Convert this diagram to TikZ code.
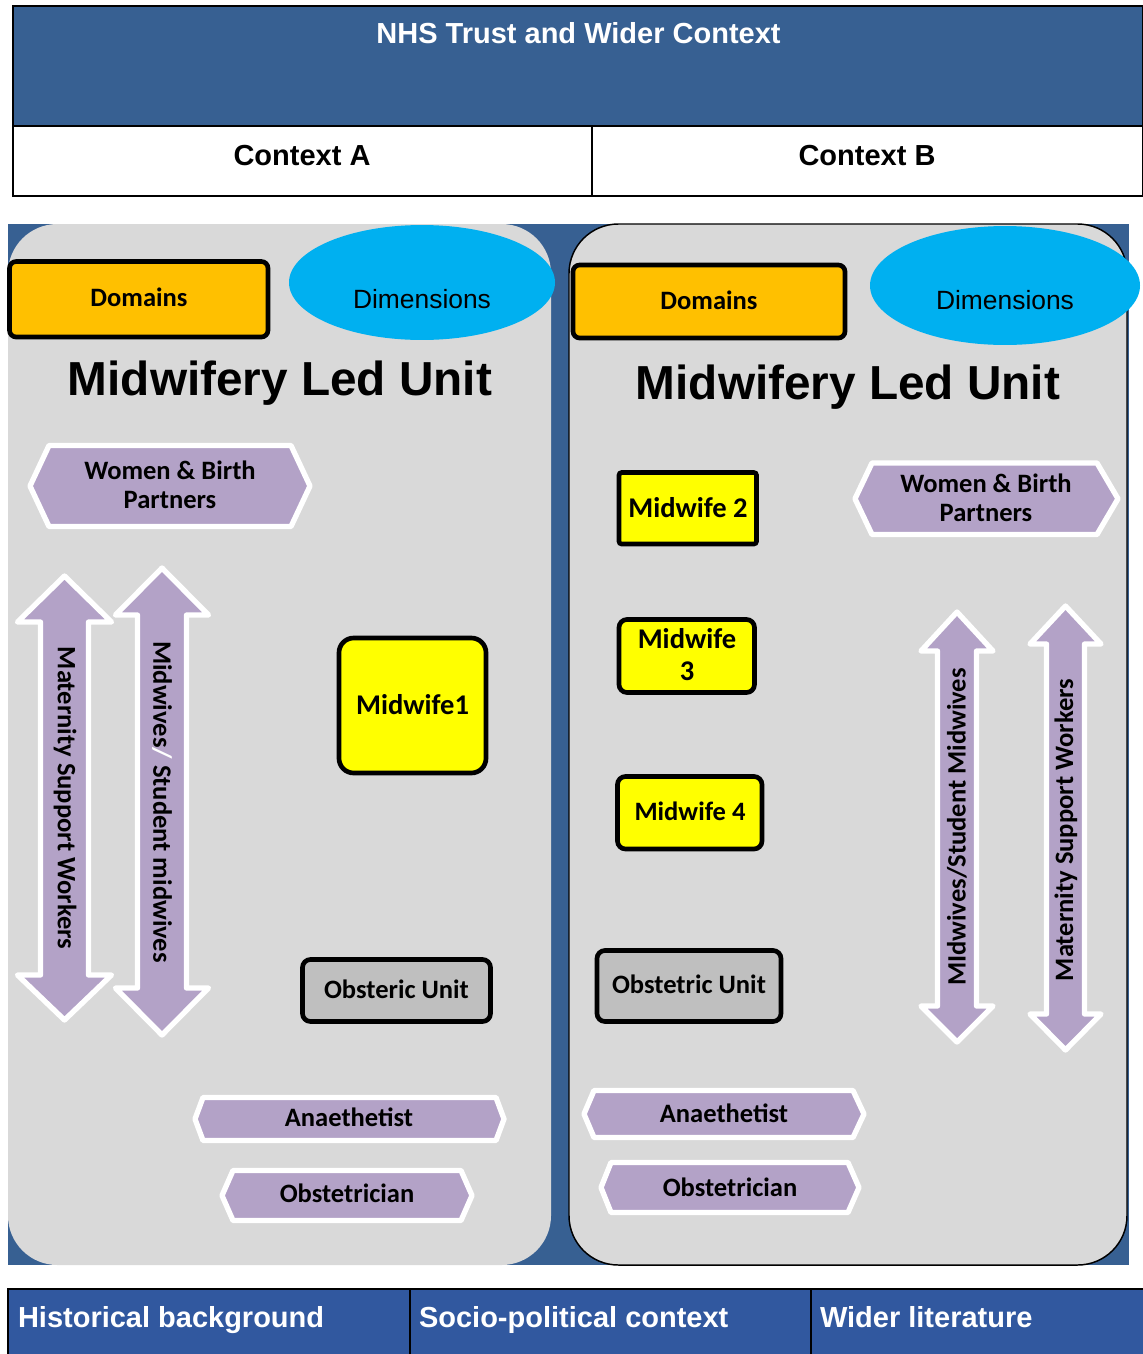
\documentclass[tikz,border=0pt]{standalone}
\usepackage{fontspec}
\newfontfamily\arialf{Liberation Sans}
\newfontfamily\calf{Carlito}
\definecolor{hdrblue}{RGB}{55,96,146}
\definecolor{botblue}{RGB}{49,88,159}
\definecolor{panelgray}{RGB}{217,217,217}
\definecolor{lav}{RGB}{179,162,199}
\definecolor{domorange}{RGB}{255,192,0}
\definecolor{dimcyan}{RGB}{0,176,240}
\definecolor{mwyellow}{RGB}{255,255,0}
\definecolor{boxgray}{RGB}{191,191,191}
\newcommand\myDblArrow[7]{%
  \draw[lavshape] (#1,#2) -- (#1+#6,#3) -- (#1+#7,#3) -- (#1+#7,#4) -- (#1+#6,#4) -- (#1,#5)
    -- (#1-#6,#4) -- (#1-#7,#4) -- (#1-#7,#3) -- (#1-#6,#3) -- cycle;}
\newcommand\myHex[6]{%
  \draw[lavshape] (#1,{(#5+#6)/2}) -- (#3,#5) -- (#4,#5) -- (#2,{(#5+#6)/2}) -- (#4,#6) -- (#3,#6) -- cycle;}
\begin{document}
\begin{tikzpicture}[x=0.75pt,y=-0.75pt,
  txt/.style={inner sep=0pt,outer sep=0pt,text=black},
  arialB/.style={txt,font=\arialf\bfseries\fontsize{21.75pt}{26pt}\selectfont},
  calB/.style={txt,font=\calf\bfseries\fontsize{19.9pt}{21.75pt}\selectfont},
  calBig/.style={txt,font=\calf\bfseries\fontsize{21.4pt}{24pt}\selectfont},
  dimtxt/.style={txt,font=\arialf\fontsize{19.8pt}{22pt}\selectfont},
  mlutxt/.style={txt,font=\arialf\bfseries\fontsize{35.8pt}{40pt}\selectfont},
  bottxt/.style={arialB,text=white,anchor=base west},
  blackbox/.style={draw=black,line width=3.5pt},
  lavshape/.style={fill=lav,draw=white,line width=4pt,line join=round},
]
\useasboundingbox (0,0) rectangle (1143,1354);
\fill[white] (0,0) rectangle (1143,1354);

% header
\draw[fill=hdrblue,line width=2pt] (13,6) rectangle (1143,126);
\draw[fill=white,line width=2pt] (13,126) rectangle (1143,196);
\draw[line width=1.5pt] (592,126) -- (592,196);
\node[arialB,text=white,anchor=base] (nhs) at (578.5,43.5) {NHS Trust and Wider Context};
\node[arialB,anchor=base] (ctxA) at (302,165) {Context A};
\node[arialB,anchor=base] (ctxB) at (867,165) {Context B};

% middle background and panels
\fill[hdrblue] (8,224) rectangle (1129,1265);
\fill[panelgray,rounded corners=37pt] (8,224) rectangle (551,1265);
\draw[fill=panelgray,line width=1.1pt,rounded corners=37pt] (569,224) rectangle (1127,1265);

% ---------- left panel ----------
\draw[blackbox,fill=domorange,rounded corners=5pt] (9.5,261.5) rectangle (268,337);
\node[calB,anchor=base] (domL) at (139,306.5) {Domains};
\fill[dimcyan] (422,282.5) ellipse [x radius=99.75pt, y radius=43.1pt];
\node[dimtxt,anchor=base] (dimL) at (422,308.5) {Dimensions};
\node[mlutxt,anchor=base] (mluL) at (280,395) {Midwifery Led Unit};

\myHex{30}{310}{49}{291}{445.5}{526.5}
\node[calB,align=center,anchor=base] (wbL) at (170,508) {Women \& Birth\\Partners};

\myDblArrow{64.5}{576}{622}{975}{1020}{47}{24}
\node[calB,rotate=-90] (mswL) at (65,798) {Maternity Support Workers};
\myDblArrow{162}{568}{615}{988}{1035}{46.5}{24.5}
\node[calB,rotate=-90] (smwL) at (162,802) {Midwives{\color{white}/} Student midwives};

\draw[blackbox,fill=mwyellow,rounded corners=11pt] (339,638) rectangle (486,773);
\node[calBig,anchor=base] (mw1) at (412.5,714) {Midwife1};

\draw[blackbox,fill=boxgray,rounded corners=6pt] (302.5,959.5) rectangle (490.5,1021.5);
\node[calB,anchor=base] (obuL) at (396.5,998) {Obsteric Unit};

\myHex{195}{504}{203}{496}{1097.5}{1140.5}
\node[calB,anchor=base] (anaL) at (349,1126.7) {Anaethetist};
\myHex{222}{472}{233}{461}{1170.5}{1220.5}
\node[calB,anchor=base] (obsL) at (347,1202.7) {Obstetrician};

% ---------- right panel ----------
\draw[blackbox,fill=domorange,rounded corners=5pt] (573,265) rectangle (845,338);
\node[calB,anchor=base] (domR) at (709,309) {Domains};
\fill[dimcyan] (1005,285.5) ellipse [x radius=101.25pt, y radius=44.6pt];
\node[dimtxt,anchor=base] (dimR) at (1005,309.5) {Dimensions};
\node[mlutxt,anchor=base] (mluR) at (848,399) {Midwifery Led Unit};

\draw[blackbox,fill=mwyellow,rounded corners=2pt] (619,472.5) rectangle (756.5,544);
\node[calBig,anchor=base] (mw2) at (688,517) {Midwife 2};
\draw[blackbox,fill=mwyellow,rounded corners=6pt] (619,619.5) rectangle (754.5,692.5);
\node[txt,font=\calf\bfseries\fontsize{21.4pt}{24pt}\selectfont,align=center,anchor=base] (mw3) at (687,680) {Midwife\\3};
\draw[blackbox,fill=mwyellow,rounded corners=6pt] (617.5,776.5) rectangle (762,849);
\node[calB,anchor=base] (mw4) at (690,820.7) {Midwife 4};
\draw[blackbox,fill=boxgray,rounded corners=6pt] (597,950.5) rectangle (781,1021.5);
\node[calB,anchor=base] (obuR) at (689,993) {Obstetric Unit};

\myHex{855}{1118}{872}{1097}{463}{534.5}
\node[calB,align=center,anchor=base] (wbR) at (986,521) {Women \& Birth\\Partners};

\myDblArrow{957}{612}{651}{1006}{1042}{36}{19.5}
\node[calB,rotate=90] (smwR) at (957,827) {MIdwives/Student Midwives};
\myDblArrow{1065.5}{606}{644}{1014}{1050}{35.5}{19}
\node[calB,rotate=90] (mswR) at (1066,830) {Maternity Support Workers};

\myHex{584}{864}{594}{853}{1090.5}{1137.5}
\node[calB,anchor=base] (anaR) at (724,1122) {Anaethetist};
\myHex{601}{859}{611}{848}{1162.5}{1212.5}
\node[calB,anchor=base] (obsR) at (730,1196) {Obstetrician};

% bottom bar
\fill[botblue] (8,1289) rectangle (1143,1354);
\draw[line width=1.5pt] (8,1354) -- (8,1289) -- (1143,1289);
\draw[line width=1.5pt] (410,1289) -- (410,1354);
\draw[line width=1.5pt] (811,1289) -- (811,1354);
\node[bottxt] (hist) at (18,1327) {Historical background};
\node[bottxt] (socio) at (419,1327) {Socio-political context};
\node[bottxt] (wider) at (820,1327) {Wider literature};
\end{tikzpicture}
\end{document}
